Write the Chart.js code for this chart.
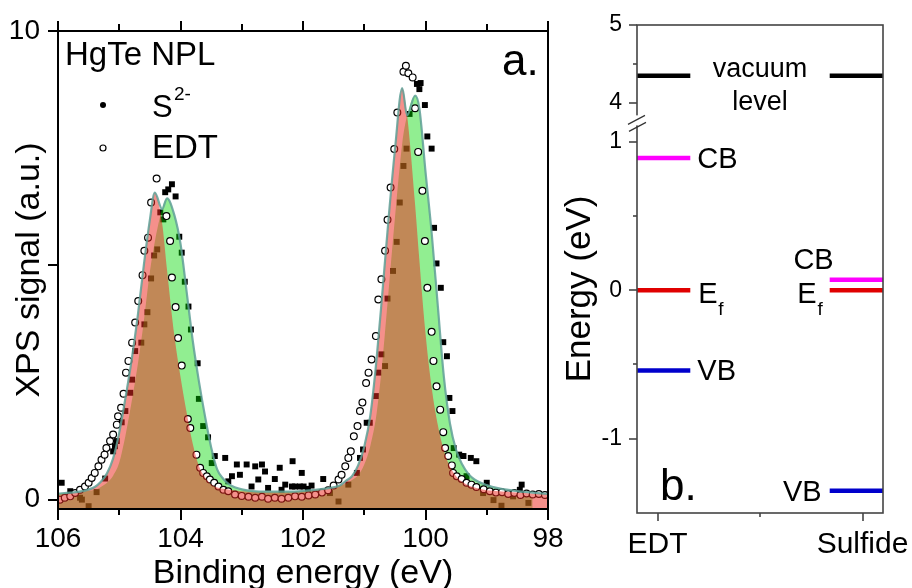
<!DOCTYPE html>
<html><head><meta charset="utf-8">
<script src="https://cdn.jsdelivr.net/npm/chart.js@4.4.1/dist/chart.umd.min.js"></script>
<style>
html,body{margin:0;padding:0;background:#fff;}
#wrap{position:relative;width:912px;height:588px;overflow:hidden;background:#fff;}
canvas{position:absolute;left:0;top:0;}
</style></head><body>
<div id="wrap"><canvas id="xps" width="912" height="588"></canvas><canvas id="levels" width="912" height="588"></canvas></div>
<script>
// ---------------- Panel a: XPS data ----------------
const xTicks = [98, 99, 100, 101, 102, 103, 104, 105, 106];
const yTicks = [0, 5, 10];

// fit curves on a shared binding-energy grid
const fitE = [106.0,105.8,105.6,105.4,105.3,105.2,105.1,105.0,104.9,104.8,104.7,104.6,104.5,104.42,104.3,104.22,104.1,104.0,103.9,103.8,103.7,103.6,103.5,103.4,103.3,103.2,103.0,102.6,102.2,101.8,101.6,101.4,101.3,101.2,101.1,101.0,100.9,100.8,100.7,100.6,100.5,100.38,100.3,100.17,100.1,100.0,99.9,99.8,99.7,99.6,99.5,99.4,99.3,99.2,99.0,98.8,98.5,98.25,98.0];
const edtFit = [0.11,0.14,0.18,0.27,0.38,0.56,0.88,1.43,2.16,2.96,3.90,4.99,5.97,6.55,5.9,4.9,3.5,2.62,1.86,1.19,0.72,0.48,0.33,0.26,0.23,0.21,0.18,0.16,0.16,0.21,0.24,0.30,0.40,0.50,0.73,1.13,1.80,2.98,4.48,6.04,7.45,8.78,8.2,6.3,5.11,3.55,2.4,1.6,1.05,0.7,0.5,0.38,0.3,0.26,0.2,0.18,0.15,0.13,0.12];
const sulfideFit = [0.13,0.15,0.18,0.21,0.27,0.36,0.51,0.79,1.36,2.07,2.86,3.79,4.86,5.5,6.2,6.43,6.07,5.46,4.44,3.39,2.53,1.78,1.12,0.64,0.44,0.32,0.22,0.17,0.17,0.20,0.24,0.30,0.34,0.42,0.52,0.75,1.15,1.82,3.0,4.5,6.0,7.6,8.2,8.62,8.35,7.0,5.7,4.15,2.62,1.62,1.06,0.75,0.55,0.43,0.31,0.24,0.18,0.15,null];

// S2- measured points (filled squares)
const sE = [105.94,105.80,105.64,105.61,105.50,105.37,105.23,105.10,105.07,105.04,104.96,104.90,104.82,104.79,104.74,104.64,104.59,104.54,104.48,104.43,104.38,104.33,104.28,104.25,104.20,104.14,104.08,104.02,103.98,103.93,103.87,103.83,103.72,103.70,103.63,103.55,103.49,103.44,103.27,103.22,103.16,103.08,103.03,102.92,102.84,102.78,102.73,102.67,102.62,102.57,102.46,102.38,102.35,102.29,102.18,102.17,102.13,102.05,102.02,101.99,101.92,101.86,101.67,101.56,101.42,101.26,101.12,101.07,101.02,100.96,100.91,100.81,100.77,100.72,100.66,100.62,100.53,100.47,100.42,100.36,100.31,100.26,100.14,100.10,100.08,100.01,99.97,99.90,99.86,99.82,99.75,99.71,99.65,99.61,99.56,99.54,99.45,99.41,99.38,99.33,99.26,99.17,99.06,99.00,98.89,98.76,98.57,98.51,98.46,98.43,98.32];
const sV = [0.36,0.18,0.04,0.00,-0.14,0.16,0.45,1.03,1.14,1.25,1.65,1.89,2.28,2.56,3.17,3.35,3.74,4.00,4.72,5.21,5.34,6.13,5.98,6.56,6.62,6.73,6.47,5.61,5.27,4.65,4.12,3.63,2.91,2.15,1.57,1.33,0.78,0.93,0.89,0.39,0.50,0.75,0.53,0.75,0.28,0.71,0.43,0.75,0.60,0.25,0.44,0.68,0.21,0.32,0.28,0.82,0.28,0.28,0.57,0.28,0.23,0.30,0.44,0.14,-0.04,0.32,0.57,0.89,1.07,1.64,1.64,2.21,2.71,3.10,2.85,4.29,4.88,5.50,6.34,7.12,7.49,8.23,8.87,8.76,8.89,8.42,7.75,7.49,5.80,5.04,4.52,3.36,3.06,2.17,1.89,1.10,0.96,0.93,0.93,0.50,0.89,0.82,0.14,0.36,-0.01,-0.13,0.07,0.14,0.21,0.32,-0.07];

// EDT measured points (open circles)
const eE = [105.97,105.89,105.80,105.72,105.64,105.56,105.50,105.45,105.40,105.34,105.29,105.24,105.21,105.15,105.10,105.04,105.02,104.97,104.93,104.89,104.85,104.79,104.74,104.69,104.62,104.59,104.53,104.48,104.39,104.23,104.17,104.14,104.08,104.04,103.98,103.88,103.84,103.74,103.68,103.63,103.57,103.52,103.45,103.38,103.30,103.22,103.11,103.00,102.89,102.78,102.67,102.57,102.46,102.35,102.24,102.13,102.02,101.91,101.80,101.69,101.59,101.50,101.42,101.37,101.31,101.26,101.22,101.17,101.11,101.07,101.03,100.97,100.93,100.88,100.81,100.77,100.72,100.66,100.62,100.57,100.51,100.46,100.36,100.32,100.28,100.21,100.17,100.12,100.05,100.01,99.97,99.90,99.87,99.82,99.76,99.71,99.68,99.63,99.57,99.55,99.49,99.41,99.33,99.25,99.17,99.05,98.95,98.85,98.75,98.65,98.55,98.45,98.35,98.25,98.15,98.05];
const eV = [0.00,0.04,0.07,0.14,0.21,0.28,0.36,0.46,0.57,0.71,0.85,0.96,1.10,1.25,1.39,1.60,1.78,1.96,2.26,2.71,2.96,3.35,3.78,4.24,4.79,5.31,5.59,6.34,6.85,6.05,5.52,4.74,4.11,3.45,2.86,1.72,1.53,0.96,0.68,0.57,0.50,0.43,0.36,0.28,0.21,0.18,0.11,0.08,0.06,0.04,0.06,0.02,0.04,0.02,0.04,0.07,0.06,0.09,0.11,0.15,0.20,0.30,0.43,0.53,0.71,0.89,1.03,1.35,1.57,1.89,2.07,2.49,2.71,2.99,3.49,4.27,4.70,5.31,5.97,6.66,7.48,8.26,9.13,9.26,9.10,9.01,8.35,7.42,6.59,5.52,4.52,3.58,2.96,2.42,1.92,1.44,1.10,0.93,0.73,0.57,0.50,0.44,0.36,0.32,0.27,0.22,0.18,0.15,0.16,0.12,0.14,0.10,0.13,0.11,0.12,0.10];

// ---------------- Panel b: energy levels ----------------
const levelSamples = ['EDT', 'Sulfide'];
const samplePos = [1, 2];
const vacuumLevel = [4.35, 4.35];
const cbLevel = [0.89, 0.07];
const efLevel = [0, 0];
const vbLevel = [-0.54, -1.35];
const energyTicks = [-1, -0.5, 0, 0.5, 1, 4, 4.5, 5];

// ---------------- helpers / styles ----------------
const FONT = '"Liberation Sans", Arial, Helvetica, sans-serif';
Chart.defaults.font.family = FONT;
Chart.defaults.color = '#000';

function pts(xs, ys) { const out = []; xs.forEach((x, i) => { if (ys[i] !== null && ys[i] !== undefined) out.push({x: x, y: ys[i]}); }); return out; }
function txt(ctx, s, x, y, size, align, base, color) {
  ctx.save(); ctx.font = size + 'px ' + FONT; ctx.textAlign = align || 'left';
  ctx.textBaseline = base || 'alphabetic'; ctx.fillStyle = color || '#000';
  ctx.fillText(s, x, y); ctx.restore();
}
function line(ctx, x1, y1, x2, y2) { ctx.beginPath(); ctx.moveTo(x1, y1); ctx.lineTo(x2, y2); ctx.stroke(); }

const envelope = fitE.map((e, i) => Math.max(edtFit[i], sulfideFit[i] === null ? -Infinity : sulfideFit[i]));

const xpsDecor = {
  id: 'xpsDecor',
  afterDraw(chart) {
    const ctx = chart.ctx, ca = chart.chartArea, xs = chart.scales.x, ys = chart.scales.y;
    ctx.save();
    ctx.strokeStyle = '#000'; ctx.lineWidth = 2;
    ctx.strokeRect(ca.left, ca.top, ca.right - ca.left, ca.bottom - ca.top);
    xTicks.forEach(v => {
      const px = Math.round(xs.getPixelForValue(v));
      const major = v % 2 === 0;
      line(ctx, px, ca.bottom, px, ca.bottom + (major ? 11 : 6));
      line(ctx, px, ca.top, px, ca.top - (major ? 10 : 7));
    });
    yTicks.forEach(v => { const py = Math.round(ys.getPixelForValue(v)); line(ctx, ca.left - 10, py, ca.left, py); });
    // axis titles
    txt(ctx, 'Binding energy (eV)', (ca.left + ca.right) / 2, 583, 34, 'center');
    ctx.save(); ctx.translate(39, (ca.top + ca.bottom) / 2); ctx.rotate(-Math.PI / 2);
    txt(ctx, 'XPS signal (a.u.)', 0, 0, 34, 'center'); ctx.restore();
    // legend
    txt(ctx, 'HgTe NPL', 65, 65, 33);
    ctx.fillStyle = '#000'; ctx.beginPath(); ctx.arc(103, 105, 3, 0, Math.PI * 2); ctx.fill();
    txt(ctx, 'S', 152, 117, 31); txt(ctx, '2-', 174, 100, 19);
    ctx.fillStyle = '#fff'; ctx.lineWidth = 1.2; ctx.beginPath(); ctx.arc(103, 148, 3, 0, Math.PI * 2); ctx.fill(); ctx.stroke();
    txt(ctx, 'EDT', 152, 158, 33);
    txt(ctx, 'a.', 502, 75, 44);
    ctx.restore();
  }
};

new Chart(document.getElementById('xps'), {
  type: 'line',
  data: { datasets: [
    { label: 'envelope', data: pts(fitE, envelope), borderColor: 'rgba(95,160,150,0.85)', borderWidth: 2.2, pointRadius: 0, fill: false, cubicInterpolationMode: 'monotone', order: 0 },
    { label: 'EDT fit', data: pts(fitE, edtFit), borderWidth: 0, borderColor: 'rgba(0,0,0,0)', backgroundColor: 'rgba(236,43,33,0.52)', pointRadius: 0, fill: 'start', cubicInterpolationMode: 'monotone', order: 1 },
    { label: 'EDT', data: pts(eE, eV), showLine: false, pointStyle: 'circle', pointRadius: 3.4, backgroundColor: '#fff', borderColor: '#000', borderWidth: 1.2, fill: false, order: 2 },
    { label: 'S2- fit', data: pts(fitE, sulfideFit), borderWidth: 0, borderColor: 'rgba(0,0,0,0)', backgroundColor: 'rgba(0,216,0,0.43)', pointRadius: 0, fill: 'start', cubicInterpolationMode: 'monotone', order: 3 },
    { label: 'S2-', data: pts(sE, sV), showLine: false, pointStyle: 'rect', pointRadius: 4.2, backgroundColor: '#000', borderWidth: 0, fill: false, order: 4 }
  ]},
  options: {
    responsive: false, animation: false, devicePixelRatio: 1,
    layout: { padding: { left: 0, top: 31, right: 364, bottom: 0 } },
    plugins: { legend: { display: false }, tooltip: { enabled: false } },
    scales: {
      x: { type: 'linear', min: 98, max: 106, reverse: true,
        afterBuildTicks: s => { s.ticks = xTicks.map(v => ({ value: v })); },
        afterFit: s => { s.height = 79; s.paddingLeft = 0; s.paddingRight = 0; },
        ticks: { autoSkip: false, maxRotation: 0, padding: 2, font: { size: 28 }, color: '#000', callback: v => (v % 2 === 0 ? String(v) : '') },
        grid: { display: false, drawTicks: true, tickLength: 11 }, border: { display: false } },
      y: { type: 'linear', min: -0.2, max: 10,
        afterBuildTicks: s => { s.ticks = yTicks.map(v => ({ value: v })); },
        afterFit: s => { s.width = 58; s.paddingTop = 0; s.paddingBottom = 0; },
        ticks: { padding: 8, font: { size: 28 }, color: '#000', callback: v => (v === 5 ? '' : String(v)) },
        grid: { display: false, drawTicks: true, tickLength: 10 }, border: { display: false } }
    }
  },
  plugins: [xpsDecor]
});

// ---------------- Panel b chart ----------------
const BREAK_LOW = 1.15, BREAK_HIGH = 3.79, UPPER_SCALE = 0.525;
function toAxis(v) { return v > 2 ? BREAK_LOW + (v - BREAK_HIGH) * UPPER_SCALE : v; }
function fromAxis(a) { return a > BREAK_LOW + 1e-9 ? BREAK_HIGH + (a - BREAK_LOW) / UPPER_SCALE : a; }
const segSpan = [[0.9, 1.16], [1.84, 2.1]];
const levelStyles = [
  { values: vacuumLevel, color: '#000000' },
  { values: cbLevel, color: '#ff00ff' },
  { values: efLevel, color: '#e00000' },
  { values: vbLevel, color: '#0000cc' }
];
const levelDatasets = [];
levelStyles.forEach(ls => levelSamples.forEach((s, i) => {
  const a = toAxis(ls.values[i]);
  levelDatasets.push({ label: s, data: [{ x: segSpan[i][0], y: a }, { x: segSpan[i][1], y: a }], borderColor: ls.color, borderWidth: 4.5, borderCapStyle: 'butt', pointRadius: 0, fill: false });
}));

const levelDecor = {
  id: 'levelDecor',
  afterDraw(chart) {
    const ctx = chart.ctx, ca = chart.chartArea, xs = chart.scales.x, ys = chart.scales.y;
    ctx.save();
    ctx.strokeStyle = '#444'; ctx.lineWidth = 1.6;
    ctx.strokeRect(ca.left, ca.top, ca.right - ca.left, ca.bottom - ca.top);
    energyTicks.forEach(v => {
      const py = Math.round(ys.getPixelForValue(toAxis(v)));
      line(ctx, ca.left - (Number.isInteger(v) ? 8 : 4), py, ca.left, py);
    });
    [1, 1.5, 2].forEach(v => {
      const px = Math.round(xs.getPixelForValue(v));
      line(ctx, px, ca.bottom, px, ca.bottom + (Number.isInteger(v) ? 8 : 4));
    });
    // axis break
    const yb = ys.getPixelForValue(BREAK_LOW);
    ctx.fillStyle = '#fff'; ctx.fillRect(ca.left - 3, yb - 4, 6, 10);
    ctx.strokeStyle = '#333'; ctx.lineWidth = 1.2;
    line(ctx, ca.left - 9, yb + 5, ca.left + 8, yb - 4);
    line(ctx, ca.left - 8, yb + 12, ca.left + 9, yb + 3);
    // title
    ctx.save(); ctx.translate(590, 289); ctx.rotate(-Math.PI / 2);
    txt(ctx, 'Energy (eV)', 0, 0, 35, 'center'); ctx.restore();
    // level labels
    const yv = v => ys.getPixelForValue(toAxis(v));
    const e0 = xs.getPixelForValue(segSpan[0][1]);
    const s0 = xs.getPixelForValue(segSpan[1][0]);
    const vy = yv(vacuumLevel[0]);
    txt(ctx, 'vacuum', (e0 + s0) / 2, vy + 1, 27, 'center');
    txt(ctx, 'level', (e0 + s0) / 2, vy + 34, 27, 'center');
    txt(ctx, 'CB', e0 + 7, yv(cbLevel[0]) + 10, 29);
    txt(ctx, 'E', e0 + 8, yv(efLevel[0]) + 13, 29); txt(ctx, 'f', e0 + 28, yv(efLevel[0]) + 25, 19);
    txt(ctx, 'VB', e0 + 7, yv(vbLevel[0]) + 10, 29);
    txt(ctx, 'CB', s0 + 4, yv(cbLevel[1]) - 11, 29, 'right');
    txt(ctx, 'E', s0 - 13, yv(efLevel[1]) + 13, 29, 'right'); txt(ctx, 'f', s0 - 7, yv(efLevel[1]) + 25, 19, 'right');
    txt(ctx, 'VB', s0 - 8, yv(vbLevel[1]) + 10, 29, 'right');
    txt(ctx, 'b.', ca.left + 23, ca.bottom - 13, 44);
    ctx.restore();
  }
};

new Chart(document.getElementById('levels'), {
  type: 'line',
  data: { datasets: levelDatasets },
  options: {
    responsive: false, animation: false, devicePixelRatio: 1,
    layout: { padding: { left: 557, top: 25, right: 29, bottom: 0 } },
    plugins: { legend: { display: false }, tooltip: { enabled: false } },
    scales: {
      x: { type: 'linear', min: 0.9, max: 2.1,
        afterBuildTicks: s => { s.ticks = [1, 1.5, 2].map(v => ({ value: v })); },
        afterFit: s => { s.height = 75; s.paddingLeft = 0; s.paddingRight = 0; },
        ticks: { autoSkip: false, maxRotation: 0, padding: 6, font: { size: 30 }, color: '#000',
          callback: v => { const i = samplePos.indexOf(v); return i >= 0 ? levelSamples[i] : ''; } },
        grid: { display: false, drawTicks: true, tickLength: 8 }, border: { display: false } },
      y: { type: 'linear', min: -1.5, max: toAxis(5),
        afterBuildTicks: s => { s.ticks = energyTicks.map(v => ({ value: toAxis(v) })); },
        afterFit: s => { s.width = 80; s.paddingTop = 0; s.paddingBottom = 0; },
        ticks: { padding: 7, font: { size: 23 }, color: '#000',
          callback: a => { const v = Math.round(fromAxis(a) * 100) / 100; return Number.isInteger(v) ? String(v) : ''; } },
        grid: { display: false, drawTicks: true, tickLength: 8 }, border: { display: false } }
    }
  },
  plugins: [levelDecor]
});
</script></body></html>
